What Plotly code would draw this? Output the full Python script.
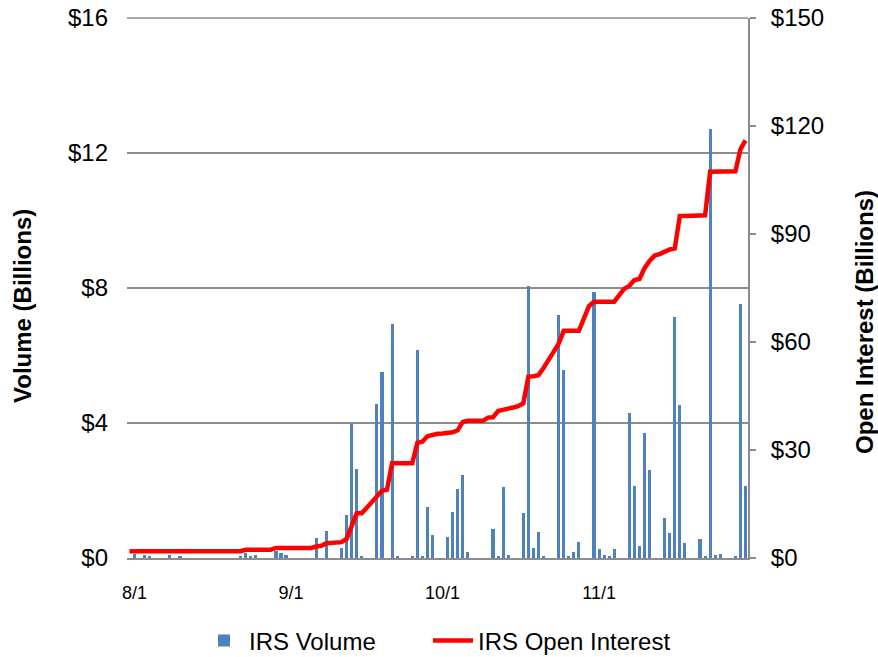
import plotly.graph_objects as go
import pandas as pd

# ---- data ----
bar_dates = [
    "2011-08-01", "2011-08-03", "2011-08-04", "2011-08-08", "2011-08-10",
    "2011-08-22", "2011-08-23", "2011-08-24", "2011-08-25",
    "2011-08-29", "2011-08-30", "2011-08-31",
    "2011-09-06", "2011-09-08",
    "2011-09-11", "2011-09-12", "2011-09-13", "2011-09-14", "2011-09-15",
    "2011-09-18", "2011-09-19", "2011-09-21", "2011-09-22",
    "2011-09-25", "2011-09-26", "2011-09-27", "2011-09-28", "2011-09-29",
    "2011-10-02", "2011-10-03", "2011-10-04", "2011-10-05", "2011-10-06",
    "2011-10-11", "2011-10-12", "2011-10-13", "2011-10-14",
    "2011-10-17", "2011-10-18", "2011-10-19", "2011-10-20", "2011-10-21",
    "2011-10-24", "2011-10-25", "2011-10-26", "2011-10-27", "2011-10-28",
    "2011-10-31", "2011-11-01", "2011-11-02", "2011-11-03", "2011-11-04",
    "2011-11-07", "2011-11-08", "2011-11-09", "2011-11-10", "2011-11-11",
    "2011-11-14", "2011-11-15", "2011-11-16", "2011-11-17", "2011-11-18",
    "2011-11-21", "2011-11-22", "2011-11-23", "2011-11-24", "2011-11-25",
    "2011-11-28", "2011-11-29", "2011-11-30",
]
irs_volume = [
    0.12, 0.10, 0.04, 0.10, 0.04,
    0.03, 0.15, 0.03, 0.10,
    0.20, 0.15, 0.10,
    0.59, 0.81,
    0.31, 1.28, 3.97, 2.65, 0.04,
    4.56, 5.50, 6.94, 0.03,
    0.03, 6.17, 0.03, 1.50, 0.68,
    0.63, 1.37, 2.04, 2.46, 0.18,
    0.86, 0.04, 2.09, 0.09,
    1.32, 8.07, 0.31, 0.77, 0.04,
    7.20, 5.56, 0.03, 0.17, 0.48,
    7.87, 0.26, 0.08, 0.03, 0.26,
    4.30, 2.13, 0.36, 3.70, 2.60,
    1.20, 0.75, 7.13, 4.53, 0.43,
    0.56, 0.04, 12.70, 0.10, 0.12,
    0.04, 7.54, 2.13,
]

oi_start = "2011-07-31"
oi_end = "2011-11-30"
irs_open_interest = [
    1.9, 1.9, 1.9, 1.9, 1.9, 1.9, 1.9, 1.9, 1.9, 1.9,
    1.9, 1.9, 1.9, 1.9, 1.9, 1.9, 1.9, 1.9, 1.9, 1.9,
    1.9, 1.9, 1.9,
    2.3, 2.3, 2.3, 2.3, 2.3, 2.3,
    2.8, 2.8, 2.8, 2.8, 2.8, 2.8, 2.8, 2.8,
    3.2, 3.4, 4.1, 4.2, 4.3, 4.4, 5.3, 8.8, 12.4, 12.4,
    14.0, 15.5, 16.8, 18.7, 19.0, 26.3, 26.3, 26.3, 26.3, 26.3,
    32.0, 32.3, 33.8, 34.3, 34.5, 34.6, 34.7, 34.9, 35.5, 37.8,
    38.1, 38.1, 38.1, 38.1, 39.0, 39.1, 40.8, 41.3, 41.5, 41.8,
    42.2, 43.0, 50.4, 50.5, 50.8, 52.8, 55.0, 57.2, 59.5, 63.1,
    63.1, 63.1, 63.1, 66.5, 70.0, 71.2, 71.2, 71.2, 71.2, 71.2,
    73.0, 74.8, 75.6, 77.2, 77.5, 80.5, 82.5, 84.0, 84.4, 85.2,
    85.7, 86.0, 95.0, 95.0, 95.0, 95.0, 95.0, 95.2, 107.3, 107.3,
    107.3, 107.3, 107.3, 107.4, 113.5, 116.0,
]

x_tick_dates = ["2011-08-01", "2011-09-01", "2011-10-01", "2011-11-01"]
x_tick_text = ["8/1", "9/1", "10/1", "11/1"]
y1_ticks = [0, 4, 8, 12, 16]
y1_text = ["$0", "$4", "$8", "$12", "$16"]
y2_ticks = [0, 30, 60, 90, 120, 150]
y2_text = ["$0", "$30", "$60", "$90", "$120", "$150"]

oi_dates = pd.date_range(oi_start, oi_end, freq="D")

FONT = "Liberation Sans, Arial, sans-serif"
DAY_MS = 86400000
GRID = "#8c8c8c"
W, H = 878, 657

fig = go.Figure()
fig.add_trace(go.Bar(
    x=bar_dates, y=irs_volume, name="IRS Volume",
    marker=dict(color="#4F81BD", line=dict(width=0)),
    width=0.62 * DAY_MS, legend="legend",
))
fig.add_trace(go.Scatter(
    x=oi_dates, y=irs_open_interest, name="IRS Open Interest",
    mode="lines", yaxis="y2", legend="legend2",
    line=dict(color="#FF0000", width=4.5),
))

leg_common = dict(orientation="h", xref="container", yref="container",
                  xanchor="left", y=16 / H, yanchor="middle",
                  font=dict(size=24), itemwidth=40, tracegroupgap=0,
                  bgcolor="rgba(0,0,0,0)", borderwidth=0)

fig.update_layout(
    template="none",
    width=W, height=H,
    margin=dict(l=127, r=130, t=18, b=99, pad=0, autoexpand=False),
    paper_bgcolor="white", plot_bgcolor="white",
    font=dict(family=FONT, size=18, color="black"),
    showlegend=True,
    legend=dict(leg_common, x=199 / W),
    legend2=dict(leg_common, x=428 / W),
    bargap=0,
    xaxis=dict(
        type="date", automargin=False,
        range=["2011-07-30 12:00", "2011-11-30 12:00"],
        tickvals=x_tick_dates, ticktext=x_tick_text,
        showgrid=False, zeroline=False,
        showline=True, linecolor=GRID, linewidth=2,
        ticks="", tickfont=dict(size=18), ticklabelstandoff=17,
        ticklabeloverflow="allow",
    ),
    yaxis=dict(
        automargin=False,
        range=[0, 16], tickvals=y1_ticks, ticktext=y1_text,
        showgrid=True, gridcolor=GRID, gridwidth=1.5,
        zeroline=False, showline=False, ticks="",
        tickfont=dict(size=24), ticklabelstandoff=18,
        ticklabeloverflow="allow",
    ),
    yaxis2=dict(
        automargin=False,
        range=[0, 150], tickvals=y2_ticks, ticktext=y2_text,
        overlaying="y", side="right",
        showgrid=False, zeroline=False,
        showline=True, linecolor=GRID, linewidth=2,
        ticks="outside", ticklen=6, tickcolor=GRID, tickwidth=2,
        tickfont=dict(size=24), ticklabelstandoff=10,
        ticklabeloverflow="allow",
    ),
    shapes=[
        dict(type="line", xref="paper", yref="paper", x0=0, x1=1, y0=1, y1=1,
             line=dict(color=GRID, width=1.5), layer="below"),
    ],
    annotations=[
        dict(text="<b>Volume (Billions)</b>", xref="paper", yref="paper",
             x=(22 - 127) / 621, y=(558 - 306) / 540, xanchor="center", yanchor="middle",
             textangle=-90, showarrow=False, font=dict(size=24)),
        dict(text="<b>Open Interest (Billions)</b>", xref="paper", yref="paper",
             x=(865 - 127) / 621, y=(558 - 322) / 540, xanchor="center", yanchor="middle",
             textangle=-90, showarrow=False, font=dict(size=24)),
    ],
)

fig.write_html("out.html", config={"displayModeBar": False},
               post_script="document.body.style.margin='0px';")
